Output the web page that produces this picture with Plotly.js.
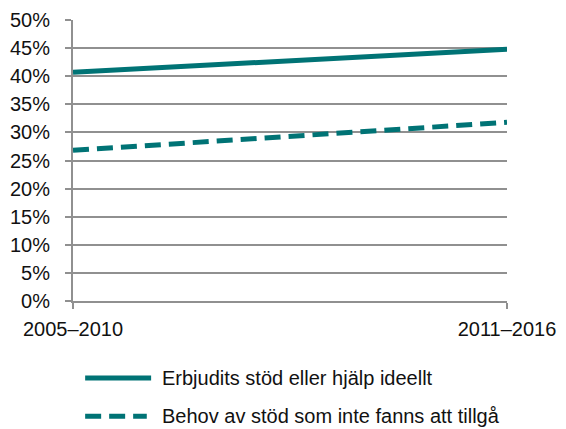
<!DOCTYPE html>
<html><head><meta charset="utf-8">
<script src="https://cdn.plot.ly/plotly-3.0.1.min.js"></script>
<style>html,body{margin:0;padding:0;background:#fff}#c{width:566px;height:429px}</style>
</head><body><div id="c"></div>
<script>
const categories = ["2005–2010", "2011–2016"];
const seriesNames = ["Erbjudits stöd eller hjälp ideellt", "Behov av stöd som inte fanns att tillgå"];
const erbjudits = [40.7, 44.8];
const behov = [26.8, 31.8];
const yTicks = [0,5,10,15,20,25,30,35,40,45,50];

const teal = "#007375";
const grid = "#909090";
const font = {family: "Liberation Sans, Arial, Helvetica", size: 20, color: "#111"};

const traces = [
  {x: categories, y: erbjudits, name: seriesNames[0], mode: "lines", line: {color: teal, width: 5}, showlegend: false},
  {x: categories, y: behov, name: seriesNames[1], mode: "lines", line: {color: teal, width: 5, dash: "16px,8px"}, showlegend: false}
];

const legY = [-0.274, -0.41];
const shapes = [
  {type: "line", xref: "paper", yref: "paper", x0: 0.028, x1: 0.18, y0: legY[0], y1: legY[0], line: {color: teal, width: 5}},
  {type: "line", xref: "paper", yref: "paper", x0: 0.028, x1: 0.17, y0: legY[1], y1: legY[1], line: {color: teal, width: 5, dash: "16px,8px"}}
];
const annotations = seriesNames.map((n, i) => ({
  text: n, xref: "paper", yref: "paper", x: 0.2, y: legY[i], xanchor: "left", yanchor: "middle",
  showarrow: false, font: font
}));

const layout = {
  width: 566, height: 429,
  margin: {l: 73, r: 59, t: 20, b: 128},
  paper_bgcolor: "#fff", plot_bgcolor: "#fff",
  font: font,
  xaxis: {type: "category", range: [0, 1], showgrid: false, zeroline: false,
          showline: true, linecolor: grid, linewidth: 2, ticks: "outside", ticklen: 6, tickwidth: 2, tickcolor: grid,
          tickfont: font, ticklabelstandoff: 3},
  yaxis: {range: [0, 50], tickvals: yTicks, ticktext: yTicks.map(v => v + "%"),
          showgrid: true, gridcolor: grid, gridwidth: 2, zeroline: false,
          showline: true, linecolor: grid, linewidth: 2, ticks: "outside", ticklen: 6, tickwidth: 2, tickcolor: grid,
          tickfont: font, ticklabelstandoff: 11},
  shapes: shapes,
  annotations: annotations
};
Plotly.newPlot("c", traces, layout, {displayModeBar: false, staticPlot: true});
</script></body></html>
